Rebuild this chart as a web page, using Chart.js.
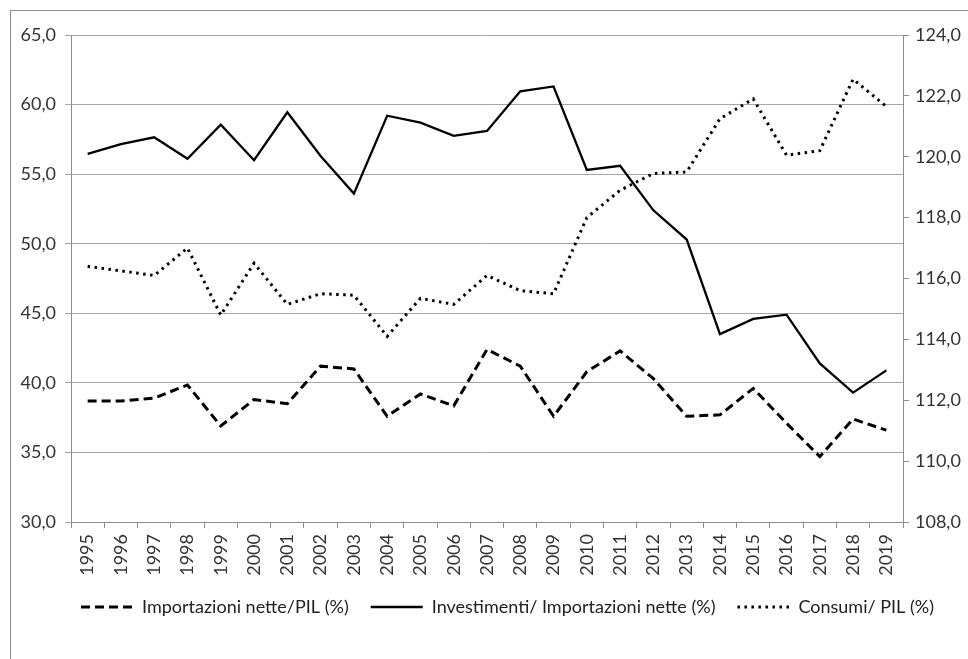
<!DOCTYPE html>
<html>
<head>
<meta charset="utf-8">
<script src="https://cdn.jsdelivr.net/npm/chart.js@4.4.1/dist/chart.umd.min.js"></script>
<style>
html,body{margin:0;padding:0;background:#fff;}
#wrap{position:relative;width:968px;height:659px;}
</style>
</head>
<body>
<div id="wrap"><canvas id="c" width="968" height="659"></canvas></div>
<script>
const years = ['1995','1996','1997','1998','1999','2000','2001','2002','2003','2004','2005','2006','2007','2008','2009','2010','2011','2012','2013','2014','2015','2016','2017','2018','2019'];
const importazioniPIL = [38.7,38.7,38.9,39.85,36.9,38.8,38.5,41.2,41.0,37.6,39.2,38.35,42.4,41.2,37.6,40.8,42.3,40.3,37.6,37.7,39.6,37.1,34.7,37.4,36.6];
const investimentiImport = [56.45,57.15,57.65,56.1,58.55,56.0,59.45,56.3,53.6,59.2,58.7,57.75,58.1,60.95,61.3,55.3,55.6,52.4,50.3,43.5,44.6,44.9,41.4,39.3,40.9];
const consumiPIL = [116.4,116.25,116.1,117.0,114.8,116.5,115.15,115.5,115.45,114.1,115.35,115.15,116.1,115.6,115.5,118.0,118.9,119.45,119.5,121.25,121.9,120.05,120.2,122.55,121.65];
const seriesLabels = ['Importazioni nette/PIL (%)','Investimenti/ Importazioni nette (%)','Consumi/ PIL (%)'];
const leftTicks = {min:30, max:65, step:5};
const rightTicks = {min:108, max:124, step:2};

const FONT = 'Lato, "Liberation Sans", sans-serif';
const fmt = v => Number(v).toFixed(1).replace('.', ',');

const framePlugin = {
  id:'frame',
  beforeDraw(chart){
    const ctx = chart.ctx;
    ctx.save();
    ctx.fillStyle = '#fff';
    ctx.fillRect(0,0,chart.width,chart.height);
    ctx.strokeStyle = '#8c8c8c';
    ctx.lineWidth = 1;
    ctx.strokeRect(10.5,10.5,chart.width+20,chart.height+20);
    ctx.restore();
  },
  afterLayout(chart){
    if (chart.legend) { chart.legend.left += 47; }
  }
};

new Chart(document.getElementById('c'), {
  type:'line',
  data:{
    labels: years,
    datasets:[
      {label:seriesLabels[0], data:importazioniPIL, yAxisID:'y', borderColor:'#000', backgroundColor:'#000', borderWidth:3, borderDash:[9,5], pointRadius:0, tension:0},
      {label:seriesLabels[1], data:investimentiImport, yAxisID:'y', borderColor:'#000', backgroundColor:'#000', borderWidth:2.3, pointRadius:0, tension:0},
      {label:seriesLabels[2], data:consumiPIL, yAxisID:'y1', borderColor:'#000', backgroundColor:'#000', borderWidth:3, borderDash:[2.5,4.5], pointRadius:0, tension:0}
    ]
  },
  options:{
    responsive:false,
    animation:false,
    layout:{padding:{top:35, left:0, right:0, bottom:33}},
    plugins:{
      legend:{
        position:'bottom',
        labels:{
          usePointStyle:true,
          pointStyle:'line',
          pointStyleWidth:52,
          boxHeight:3,
          color:'#222',
          font:{family:FONT, size:18},
          padding:22,
          generateLabels(chart){
            return chart.data.datasets.map((ds,i)=>({
              text: ds.label,
              fillStyle: ds.borderColor,
              strokeStyle: ds.borderColor,
              lineWidth: ds.borderWidth,
              lineDash: ds.borderDash || [],
              pointStyle:'line',
              fontColor:'#222',
              hidden:false,
              datasetIndex:i
            }));
          }
        }
      },
      tooltip:{enabled:false}
    },
    scales:{
      x:{
        offset:true,
        grid:{offset:true, drawOnChartArea:false, color:'#8c8c8c', tickLength:6},
        border:{color:'#8c8c8c'},
        ticks:{minRotation:90, maxRotation:90, color:'#333', font:{family:FONT, size:18}, padding:6, autoSkip:false},
        afterFit(s){ s.height = 54; }
      },
      y:{
        position:'left',
        min:leftTicks.min, max:leftTicks.max,
        grid:{color:'#a6a6a6', tickLength:6},
        border:{color:'#8c8c8c'},
        ticks:{stepSize:leftTicks.step, color:'#333', font:{family:FONT, size:18}, padding:9, callback:fmt},
        afterFit(s){ s.width = 71; }
      },
      y1:{
        position:'right',
        min:rightTicks.min, max:rightTicks.max,
        grid:{drawOnChartArea:false, color:'#8c8c8c', tickLength:6},
        border:{color:'#8c8c8c'},
        ticks:{stepSize:rightTicks.step, color:'#333', font:{family:FONT, size:18}, padding:6, callback:fmt},
        afterFit(s){ s.width = 65; }
      }
    }
  },
  plugins:[framePlugin]
});
</script>
</body>
</html>
